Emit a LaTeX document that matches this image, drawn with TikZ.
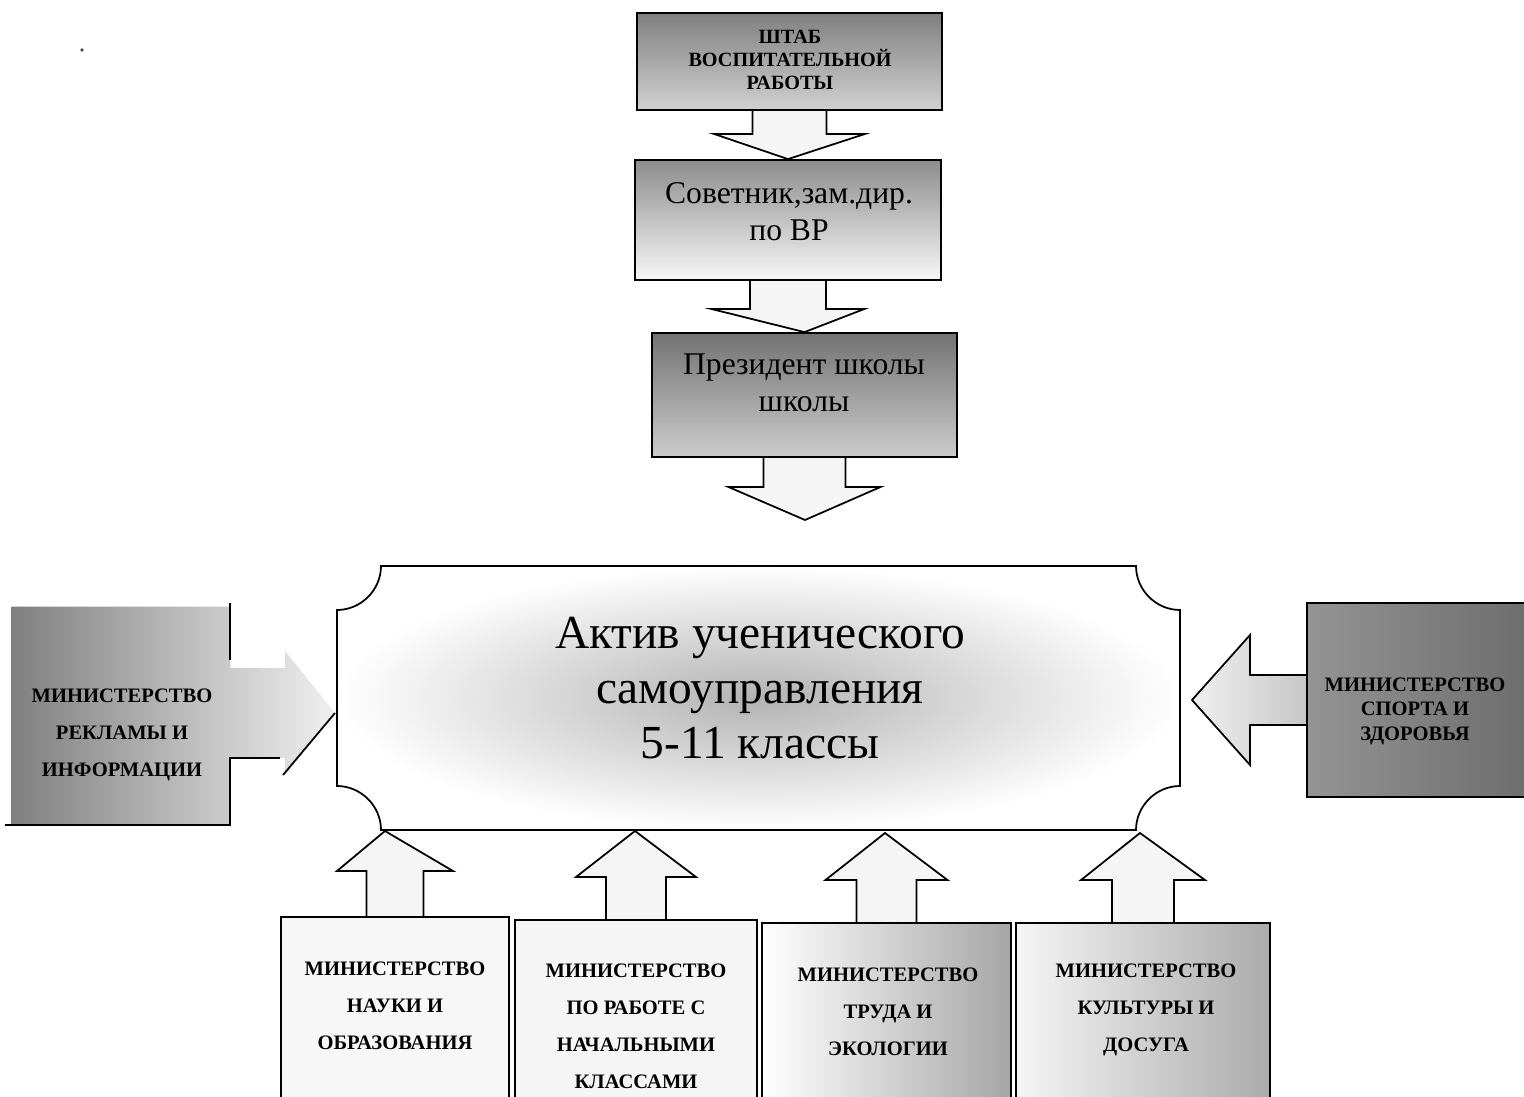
\documentclass[tikz,border=0pt]{standalone}
\usepackage{fontspec}
\setmainfont{Liberation Serif}
\usetikzlibrary{calc,fit,backgrounds}
\tikzset{
  edge/.style={draw=black, line width=1pt, line join=miter},
  boxnode/.style={edge, rectangle, inner sep=0pt},
  ghost/.style={rectangle, inner sep=0pt},
  arrowfill/.style={edge, fill=black!4},
  mintext/.style={font=\fontsize{11.7}{21}\selectfont\bfseries, align=center, inner sep=0pt},
  mintextR/.style={font=\fontsize{11.7}{14}\selectfont\bfseries, align=center, inner sep=0pt},
  hdrtext/.style={font=\fontsize{11.5}{13}\selectfont\bfseries, align=center, inner sep=0pt},
  midtext/.style={font=\fontsize{18}{21.2}\selectfont, align=center, inner sep=0pt},
  bigtext/.style={font=\fontsize{27}{31.5}\selectfont, align=center, inner sep=0pt},
}
% vertical block arrow: #1 source point, #2 tip, #3 shaft half width, #4 head half width, #5 y offset of head base from tip, #6 style
\newcommand\vblock[6]{%
  \path[#6] ($(#1)+(-#3,0)$) -- ($(#1 |- #2)+(-#3,#5)$) -- ($(#1 |- #2)+(-#4,#5)$) -- (#2)
    -- ($(#1 |- #2)+(#4,#5)$) -- ($(#1 |- #2)+(#3,#5)$) -- ($(#1)+(#3,0)$);}
% horizontal block arrow: #5 x offset of head base from tip
\newcommand\hblock[6]{%
  \path[#6] ($(#1)+(0,-#3)$) -- ($(#1 -| #2)+(#5,-#3)$) -- ($(#1 -| #2)+(#5,-#4)$) -- (#2)
    -- ($(#1 -| #2)+(#5,#4)$) -- ($(#1 -| #2)+(#5,#3)$) -- ($(#1)+(0,#3)$);}
\begin{document}
\begin{tikzpicture}[x=0.02cm, y=-0.02cm]
\useasboundingbox (0,0) rectangle (1524,1097);
\begin{pgfonlayer}{background}
\fill[white] (0,0) rectangle (1524,1097);
\end{pgfonlayer}
\clip (0,0) rectangle (1524,1097);

% speck
\fill[black!70] (82,50) circle[radius=1.1pt];

% top chain
\node[boxnode, fit={(637,13) (942,110)}, top color=black!50, bottom color=black!18] (b1) {};
\node[boxnode, fit={(635,160) (941,280)}, top color=black!45, bottom color=black!3] (b2) {};
\node[boxnode, fit={(652,333) (957,457)}, top color=black!55, bottom color=black!20] (b3) {};
\coordinate (t3) at (805,520);

\node[hdrtext] (h1) at (790,60) {ШТАБ\\ВОСПИТАТЕЛЬНОЙ\\РАБОТЫ};
\node[midtext] (h2) at (789,212) {Советник,зам.дир.\\ по ВР};
\node[midtext] (h3) at (804,383) {Президент школы\\школы};

% central plaque
\path[edge, shading=radial, inner color=black!30, outer color=white]
  (381,566) -- (1136,566) .. controls (1136,590) and (1156,610) .. (1180,610)
  -- (1180,786) .. controls (1156,786) and (1136,806) .. (1136,830)
  -- (381,830) .. controls (381,806) and (361,786) .. (337,786)
  -- (337,610) .. controls (361,610) and (381,590) .. (381,566) -- cycle;
\node[bigtext] (act) at (760,688) {Актив ученического\\самоуправления\\5-11 классы};

% left ministry (box + arrow as one shape)
\node[ghost, fit={(12,607) (230,825)}] (bL) {};
\coordinate (tL) at (335,713);
\path[left color=black!50, right color=black!6]
  (bL.north west) -- (bL.north east) -- ($(bL.east |- tL)+(0,-45)$) -- ($(tL)+(-50,-45)$)
  -- ($(tL)+(-50,-62)$) -- (tL) -- ($(tL)+(-50,62)$) -- ($(tL)+(-50,45)$)
  -- ($(bL.east |- tL)+(0,45)$) -- (bL.south east) -- (bL.south west) -- cycle;
\draw[edge] ($(bL.north east)+(0,-4)$) -- ($(bL.east |- tL)+(0,-53)$);
\draw[edge] ($(bL.south west)+(-7,0)$) -- (bL.south east) -- ($(bL.east |- tL)+(0,45)$) -- ($(tL)+(-55,45)$);
\draw[edge] ($(tL)+(-52,62)$) -- (tL);
\node[mintext] (tLt) at (122,735) {МИНИСТЕРСТВО\\РЕКЛАМЫ И\\ИНФОРМАЦИИ};

% right ministry
\node[boxnode, fit={(1307,603) (1540,797)}, left color=black!42, right color=black!58] (bR) {};
\coordinate (tR) at (1192,700);
\node[mintextR] (tRt) at (1415,711) {МИНИСТЕРСТВО\\СПОРТА И\\ЗДОРОВЬЯ};

% bottom ministries
\node[boxnode, fit={(281,917) (509,1110)}, fill=black!3] (bA) {};
\node[boxnode, fit={(515,920) (757,1110)}, fill=black!4] (bB) {};
\node[boxnode, fit={(762,923) (1011,1110)}, left color=white, right color=black!35] (bC) {};
\node[boxnode, fit={(1016,923) (1270,1110)}, left color=black!4, right color=black!33] (bD) {};
\coordinate (tA) at (385,831);
\coordinate (tB) at (635,831);
\coordinate (tC) at (885,833);
\coordinate (tD) at (1140,833);
\node[mintext] (tAt) at (395,1006) {МИНИСТЕРСТВО\\НАУКИ И\\ОБРАЗОВАНИЯ};
\node[mintext] (tBt) at (636,1026) {МИНИСТЕРСТВО\\ПО РАБОТЕ С\\НАЧАЛЬНЫМИ\\КЛАССАМИ};
\node[mintext] (tCt) at (888,1012) {МИНИСТЕРСТВО\\ТРУДА И\\ЭКОЛОГИИ};
\node[mintext] (tDt) at (1146,1010) {МИНИСТЕРСТВО\\КУЛЬТУРЫ И\\ДОСУГА};

% block arrows (behind boxes)
\begin{pgfonlayer}{background}
\vblock{b1.south}{b2.north}{37}{75}{-25}{arrowfill}
\vblock{b2.south}{b3.north}{38}{76}{-23}{arrowfill}
\vblock{b3.south}{t3}{41}{76}{-33}{arrowfill}
\hblock{bR.west}{tR}{25}{65}{58}{edge, left color=black!6, right color=black!22}
\vblock{bA.north}{tA}{28.5}{58}{40}{arrowfill}
\vblock{bB.north}{tB}{30}{60}{46}{arrowfill}
\vblock{bC.north}{tC}{30}{61}{47}{arrowfill}
\vblock{bD.north}{tD}{31}{62}{47}{arrowfill}
\end{pgfonlayer}
\end{tikzpicture}
\end{document}
